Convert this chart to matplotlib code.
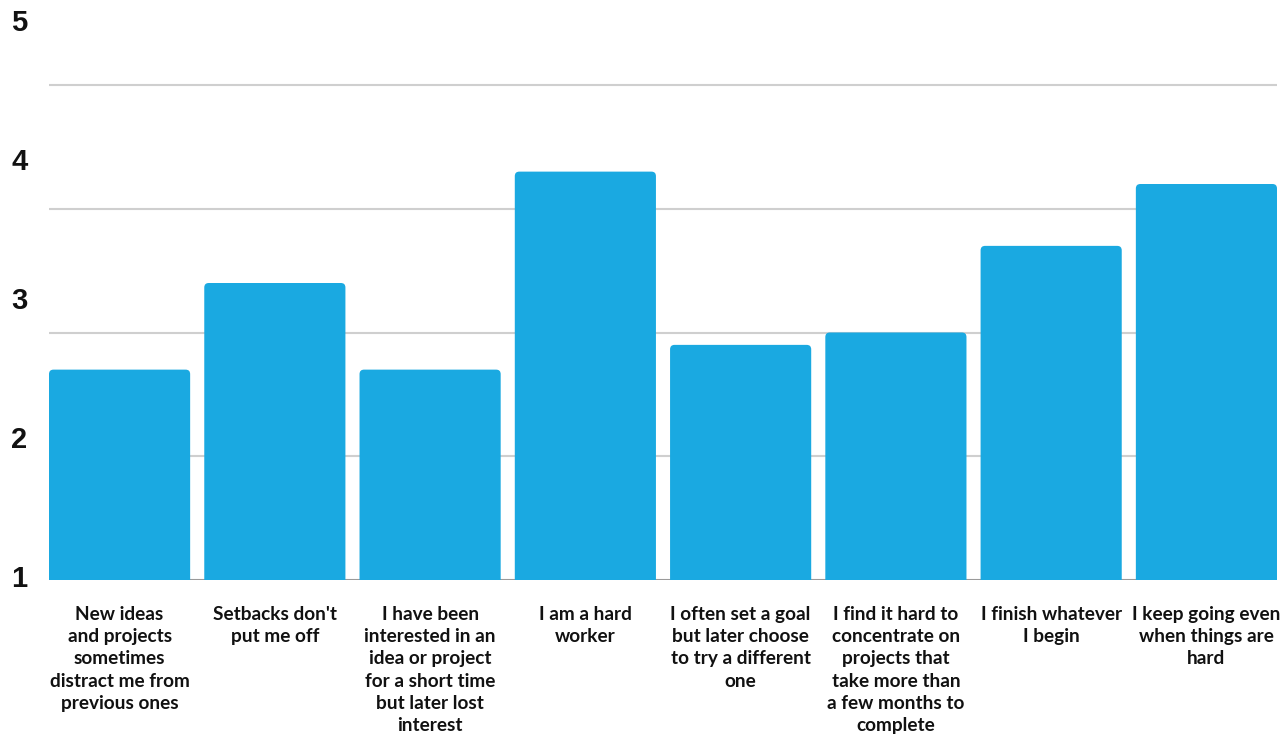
import matplotlib
matplotlib.use("Agg")
import matplotlib.pyplot as plt
from matplotlib.patches import FancyBboxPatch
from matplotlib.transforms import blended_transform_factory

# Survey statements and their mean ratings (1-5 scale)
categories = [
    "New ideas\nand projects\nsometimes\ndistract me from\nprevious ones",
    "Setbacks don't\nput me off",
    "I have been\ninterested in an\nidea or project\nfor a short time\nbut later lost\ninterest",
    "I am a hard\nworker",
    "I often set a goal\nbut later choose\nto try a different\none",
    "I find it hard to\nconcentrate on\nprojects that\ntake more than\na few months to\ncomplete",
    "I finish whatever\nI begin",
    "I keep going even\nwhen things are\nhard",
]
values = [2.7, 3.4, 2.7, 4.3, 2.9, 3.0, 3.7, 4.2]
y_ticks = [1, 2, 3, 4, 5]
y_tick_labels = ["1", "2", "3", "4", "5"]

BAR_COLOR = "#1AA9E1"
GRID_COLOR = "#CFCFCF"
W, H = 1285, 735

fig = plt.figure(figsize=(W / 100, H / 100), dpi=100)
ax = fig.add_axes([49 / W, 155 / H, 1228 / W, 580 / H])

bar_w = 141 / 155.1
ax.set_xlim(-bar_w / 2, len(values) - 1 + bar_w / 2)
ax.set_ylim(1, 1 + 580 / 123.75)

# gridlines and baseline
for t in y_ticks[1:]:
    ax.axhline(t, color=GRID_COLOR, lw=1.5, zorder=1)
ax.axhline(y_ticks[0], color="#9A9A9A", lw=1.5, zorder=1)

# bars with softly rounded top corners (bottom part extends below the axis and is clipped)
px_x = 155.1
px_y = 123.75
r = 4.5 / px_x
for i, v in enumerate(values):
    patch = FancyBboxPatch(
        (i - bar_w / 2, 0.5), bar_w, v - 0.5,
        boxstyle=f"round,pad=0,rounding_size={r}",
        mutation_aspect=px_x / px_y,
        facecolor=BAR_COLOR, edgecolor="none", zorder=2,
        clip_on=True,
    )
    ax.add_patch(patch)

for s in ax.spines.values():
    s.set_visible(False)
ax.set_xticks([])
ax.set_yticks([])

# value axis labels
tr_y = blended_transform_factory(fig.transFigure, ax.transData)
for t, lab in zip(y_ticks, y_tick_labels):
    ypos = 1 + (t - 1) * 139 / 123.75 + 0.005
    fig.text(11 / W, ypos, lab, transform=tr_y, ha="left", va="center",
             fontsize=21, fontweight="bold", family="Liberation Sans", color="#111111")

# category labels under the bars
tr_x = blended_transform_factory(ax.transData, ax.transAxes)
for i, c in enumerate(categories):
    ax.text(i, -(606 - 580) / 580, c, transform=tr_x, ha="center", va="top",
            fontsize=13.7, fontweight="bold", family="Lato", color="#111111",
            linespacing=1.37)

fig.savefig("out.png", dpi=100, facecolor="white")
